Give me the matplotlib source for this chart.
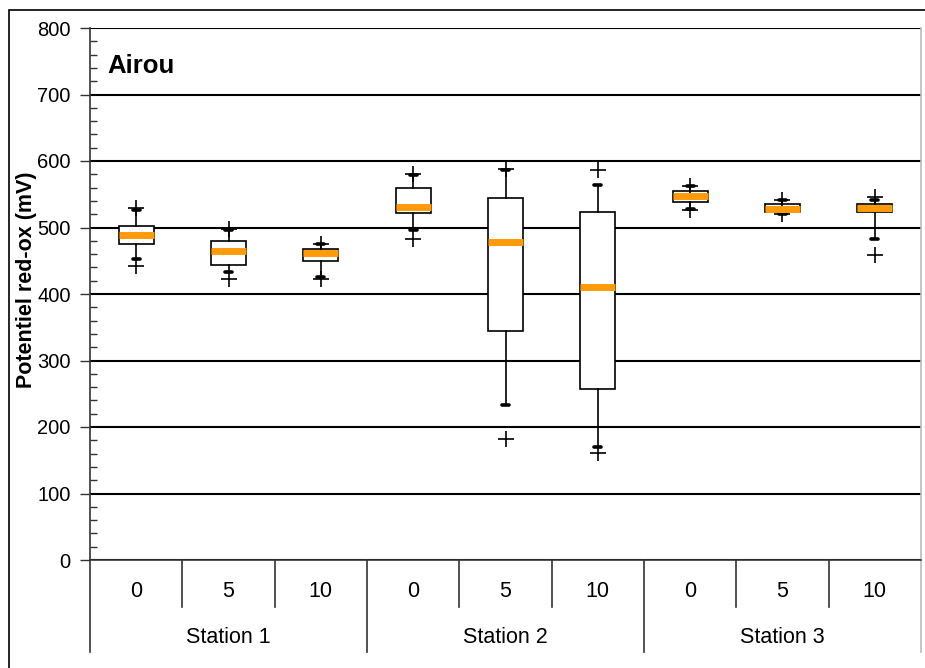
import numpy as np
import matplotlib.pyplot as plt
from matplotlib.patches import Rectangle
from matplotlib.ticker import MultipleLocator

plt.rcParams['font.family'] = ['Liberation Sans', 'DejaVu Sans']

stations = ["Station 1", "Station 2", "Station 3"]
depths = ["0", "5", "10"]

# per box: lower whisker, q1, median, q3, upper whisker, min, max
whis_lo = [453, 433, 425, 496, 233, 170, 528, 520, 483]
q1 = [475, 444, 449, 522, 345, 257, 539, 523, 524]
med = [488, 465, 462, 531, 478, 410, 548, 528, 530]
q3 = [502, 480, 467, 560, 544, 524, 555, 535, 535]
whis_hi = [526, 496, 475, 579, 586, 564, 562, 541, 542]
v_min = [442, 422, 423, 482, 182, 161, 527, 520, 459]
v_max = [529, 498, 475, 581, 588, 587, 563, 541, 546]

W, H = 925, 668
fig = plt.figure(figsize=(W / 100, H / 100), dpi=100)
ax = fig.add_axes([90 / W, 1 - 560 / H, 831 / W, 532 / H])

stats = []
for i in range(len(med)):
    stats.append(dict(whislo=whis_lo[i], q1=q1[i], med=med[i], q3=q3[i],
                      whishi=whis_hi[i], fliers=[v_min[i], v_max[i]]))

pos = np.arange(len(med))
ax.bxp(stats, positions=pos, widths=0.38, capwidths=0.075, patch_artist=True,
       boxprops=dict(facecolor='white', edgecolor='black', linewidth=1.2),
       whiskerprops=dict(color='black', linewidth=1.2),
       capprops=dict(color='black', linewidth=2.6, solid_capstyle='round'),
       medianprops=dict(color='#FF9A0A', linewidth=5, solid_capstyle='butt'),
       flierprops=dict(marker='+', markersize=12, markeredgecolor='black',
                       markeredgewidth=1.2),
       zorder=3)

ax.set_xlim(-0.5, len(med) - 0.5)
ax.set_ylim(0, 800)
ax.yaxis.set_major_locator(MultipleLocator(100))
ax.yaxis.set_minor_locator(MultipleLocator(20))
ax.tick_params(axis='y', which='major', direction='out', length=7, pad=7,
               width=1, labelsize=14.5, color='#333333')
ax.tick_params(axis='y', which='minor', direction='in', length=5,
               width=1, color='#333333')
ax.tick_params(axis='x', bottom=False, labelbottom=False)
ax.grid(axis='y', which='major', color='black', linewidth=1.5, zorder=0)
ax.set_axisbelow(True)

ax.spines['left'].set_color('#333333')
ax.spines['bottom'].set_color('#333333')
ax.spines['top'].set_visible(False)
ax.spines['right'].set_color('#bbbbbb')
for s in ax.spines.values():
    s.set_linewidth(1.2)

ax.set_ylabel("Potentiel red-ox (mV)", fontsize=15.5, fontweight='bold')
ax.yaxis.set_label_coords(-0.064, 0.526)
ax.text(0.021, 0.915, "Airou", transform=ax.transAxes, fontsize=18.5,
        fontweight='bold', va='baseline', ha='left')

# hierarchical category axis
tr = ax.get_xaxis_transform()
for k in range(len(med) + 1):
    x = k - 0.5
    if k % 3 == 0:
        col = '#bbbbbb' if k == len(med) else '#333333'
        ax.plot([x, x], [0, -0.173], transform=tr, color=col, lw=1.2, clip_on=False)
    else:
        ax.plot([x, x], [0, -0.088], transform=tr, color='#333333', lw=1.2, clip_on=False)
for i in range(len(med)):
    ax.text(i, -0.06, depths[i % 3], transform=tr, ha='center', va='center', fontsize=15.5)
for j, st in enumerate(stations):
    ax.text(3 * j + 1, -0.145, st, transform=tr, ha='center', va='center', fontsize=15.5)

fig.add_artist(Rectangle((9 / W, -0.2), 2, 1.2 - 10 / H, transform=fig.transFigure,
                         fill=False, edgecolor='black', linewidth=1.2))

fig.savefig("out.png", dpi=100)
